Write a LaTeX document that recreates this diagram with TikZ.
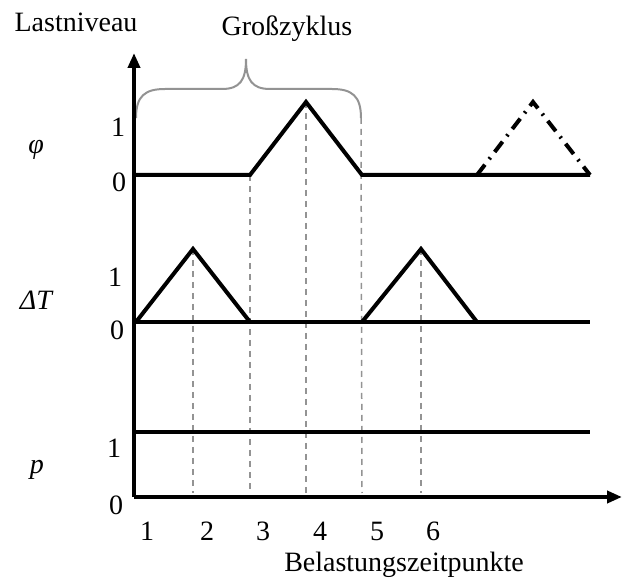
\documentclass[tikz,border=0pt]{standalone}
\usepackage{fontspec}
\setmainfont{Liberation Serif}
\usetikzlibrary{arrows.meta}
\begin{document}
\begin{tikzpicture}[x=1pt,y=-1pt,
  lbl/.style={inner sep=0pt,font=\fontsize{28}{30}\selectfont},
  mlbl/.style={inner sep=0pt,font=\fontsize{28}{30}\selectfont\itshape},
  axisline/.style={line width=4pt,-{Triangle[length=15pt,width=12pt]}},
  sig/.style={line width=4pt,line join=miter},
  sigdd/.style={line width=4pt,dash pattern=on 13pt off 7pt on 2pt off 7pt},
  guide/.style={line width=1.5pt,gray!85,dash pattern=on 6pt off 5pt},
  bracelin/.style={line width=2pt,gray!85}]
\useasboundingbox (0,0) rectangle (622,588);
% coordinates
\coordinate (O) at (134,497);
\coordinate (Ytop) at (134,53);
\coordinate (Xend) at (622,497);
% phi row
\coordinate (f0) at (134,175);
\coordinate (fa) at (250,175);
\coordinate (fp) at (306,102);
\coordinate (fb) at (362,175);
\coordinate (fc) at (477,175);
\coordinate (fq) at (533,102);
\coordinate (fe) at (590,175);
% dT row
\coordinate (t0) at (136,322);
\coordinate (tp1) at (193,249);
\coordinate (ta) at (250,322);
\coordinate (tb) at (362,322);
\coordinate (tp2) at (421,249);
\coordinate (tc) at (477,322);
\coordinate (tl) at (134,322);
\coordinate (te) at (590,322);
% p row
\coordinate (p0) at (134,432);
\coordinate (pe) at (590,432);
% brace
\coordinate (bl) at (136,118);
\coordinate (br) at (361,118);
\coordinate (bt) at (246,59);
% guide bottoms
\coordinate (g1) at (193,493);
\coordinate (g2) at (250,493);
\coordinate (g3) at (306,493);
\coordinate (g4) at (362,493);
\coordinate (g5) at (421,493);

% guides
\draw[guide] (tp1) -- (g1);
\draw[guide] (fa) -- (g2);
\draw[guide] (fp) -- (g3);
\draw[guide] (br) -- (g4);
\draw[guide] (tp2) -- (g5);

% brace
\draw[bracelin] (bl) .. controls (136,96) and (145,89) .. (165,89) -- (222,89)
  .. controls (240,89) and (246,80) .. (bt)
  .. controls (246,80) and (252,89) .. (270,89) -- (332,89)
  .. controls (352,89) and (361,96) .. (br);

% axes
\draw[axisline] (O) -- (Ytop);
\draw[axisline] (O) -- (Xend);

% phi signal
\draw[sig] (f0) -- (fa) -- (fp) -- (fb) -- (fe);
\draw[sigdd] (fc) -- (fq) -- (fe);
% dT signal
\draw[sig] (tl) -- (te);
\draw[sig] (t0) -- (tp1) -- (ta);
\draw[sig] (tb) -- (tp2) -- (tc);
% p signal
\draw[sig] (p0) -- (pe);

% labels
\node[lbl] (lastniveau) at (76,22) {Lastniveau};
\node[lbl] (gross) at (287,29) {Großzyklus};
\node[lbl] (belast) at (404,565) {Belastungszeitpunkte};
\node[mlbl] (phi) at (36,150) {φ};
\node[mlbl] (dT) at (36,300) {ΔT};
\node[mlbl] (pl) at (37,470) {p};
\node[lbl] (f1) at (118,127) {1};
\node[lbl] (f0l) at (119,182) {0};
\node[lbl] (t1) at (115,277) {1};
\node[lbl] (t0l) at (117,330) {0};
\node[lbl] (p1) at (114,448) {1};
\node[lbl] (p0l) at (116,505) {0};
\node[lbl] (k1) at (147,531) {1};
\node[lbl] (k2) at (207,531) {2};
\node[lbl] (k3) at (263,531) {3};
\node[lbl] (k4) at (320,531) {4};
\node[lbl] (k5) at (377,531) {5};
\node[lbl] (k6) at (433,531) {6};
\end{tikzpicture}
\end{document}
